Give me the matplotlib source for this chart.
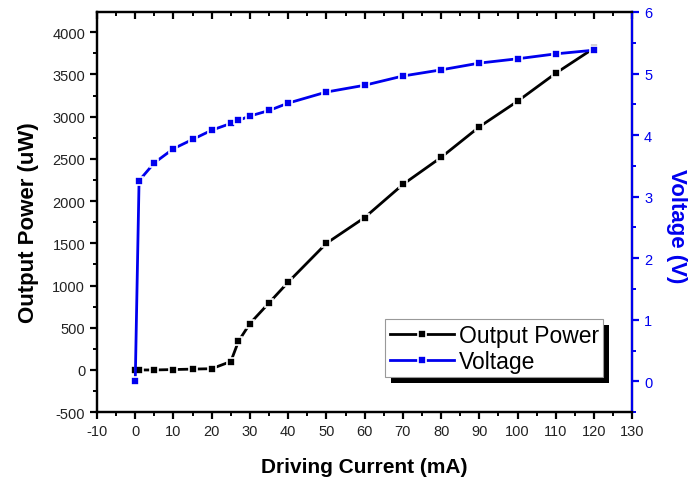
import matplotlib
matplotlib.use("Agg")
import matplotlib.pyplot as plt
from matplotlib.ticker import MultipleLocator
from matplotlib.patches import Rectangle

plt.rcParams['font.family'] = ['Liberation Sans', 'DejaVu Sans']
plt.rcParams['axes.unicode_minus'] = False

# driving current (mA)
current = [0, 1, 5, 10, 15, 20, 25, 27, 30, 35, 40, 50, 60, 70, 80, 90, 100, 110, 120]
# output power (uW)
power = [0, 0, 0, 5, 10, 15, 100, 340, 550, 795, 1040, 1500, 1805, 2197, 2518, 2880, 3183, 3515, 3812]
# voltage (V)
voltage = [0, 3.26, 3.55, 3.78, 3.93, 4.08, 4.19, 4.24, 4.31, 4.40, 4.52, 4.70, 4.81,
           4.96, 5.06, 5.17, 5.24, 5.32, 5.38]

blue = '#0000ee'

fig = plt.figure(figsize=(6.88, 4.81), dpi=100)
ax = fig.add_axes([0.141, 0.141, 0.778, 0.832])
ax2 = ax.twinx()

l1, = ax.plot(current, power, color='black', lw=2, marker='s', ms=6,
              mec='white', mew=1.2, label='Output Power', zorder=3)
l2, = ax2.plot(current, voltage, color=blue, lw=2, marker='s', ms=6,
               mec='white', mew=1.2, label='Voltage', zorder=3)

ax.set_xlim(-10, 130)
ax.set_ylim(-500, 4240)
ax2.set_ylim(-0.5, 6)

ax.xaxis.set_major_locator(MultipleLocator(10))
ax.xaxis.set_minor_locator(MultipleLocator(5))
ax.yaxis.set_major_locator(MultipleLocator(500))
ax.yaxis.set_minor_locator(MultipleLocator(250))
ax2.yaxis.set_major_locator(MultipleLocator(1))
ax2.yaxis.set_minor_locator(MultipleLocator(0.5))
ax.set_yticks(range(-500, 4001, 500))

for sp in ax.spines.values():
    sp.set_linewidth(1.6)
for sp in ax2.spines.values():
    sp.set_linewidth(1.6)
ax2.spines['right'].set_color(blue)

ax.tick_params(axis='both', which='major', direction='out', length=5, width=1.6,
               labelsize=10.5, colors='black', labelcolor='#222222')
ax.tick_params(axis='both', which='minor', direction='out', length=3, width=1.4)
ax.tick_params(axis='x', which='both', top=True)
ax2.tick_params(axis='y', which='major', direction='out', length=5, width=1.6,
                colors=blue, labelsize=10.5)
ax2.tick_params(axis='y', which='minor', direction='out', length=3, width=1.4, colors=blue)

# top ticks point inward
for t in ax.xaxis.get_major_ticks() + ax.xaxis.get_minor_ticks():
    t.tick2line.set_marker(3)

ax.set_xlabel('Driving Current (mA)', fontsize=15, fontweight='bold', labelpad=14)
ax.set_ylabel('Output Power (uW)', fontsize=16, fontweight='bold')
ax.yaxis.set_label_coords(-0.108, 0.475)
ax2.set_ylabel('Voltage (V)', fontsize=16, fontweight='bold', color=blue,
               rotation=270, va='center')
ax2.yaxis.set_label_coords(1.083, 0.468)

leg = ax.legend(handles=[l1, l2], loc='lower right', bbox_to_anchor=(0.946, 0.0875),
                borderaxespad=0, fontsize=16.5, frameon=True, fancybox=False,
                handlelength=2.8, handletextpad=0.2, borderpad=0.2, labelspacing=0.12,
                edgecolor='#999999', framealpha=1)
leg.get_frame().set_linewidth(0.8)
leg.set_zorder(10)
fig.canvas.draw()
bb = leg.get_window_extent()
shadow = Rectangle((bb.x0 + 6, bb.y0 - 6), bb.width, bb.height, transform=None,
                   facecolor='black', edgecolor='none', zorder=9)
ax.add_artist(shadow)

fig.savefig('out.png', dpi=100)
